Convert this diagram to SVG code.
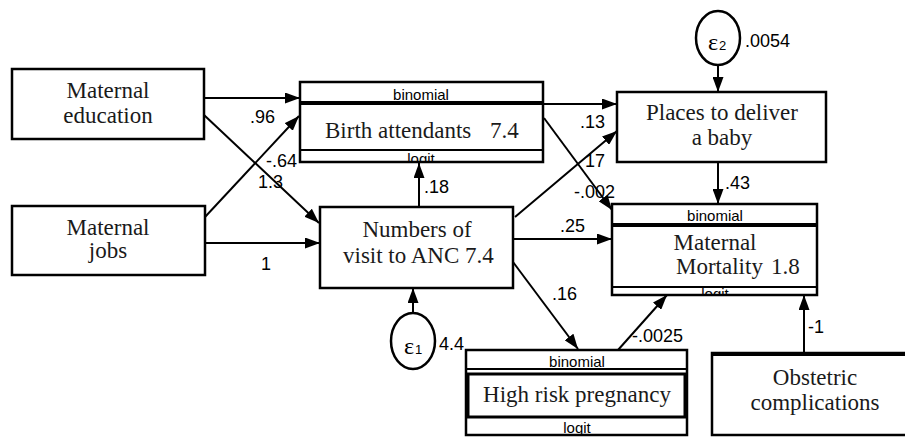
<svg xmlns="http://www.w3.org/2000/svg" width="905" height="437" viewBox="0 0 905 437">
<style>
.box{fill:#fff;stroke:#000;stroke-width:2.5}
.sep{stroke:#000;stroke-width:2}
.thick{stroke:#000;stroke-width:4}
.lbl{font-family:"Liberation Serif",serif;font-size:23px;fill:#1a1a1a}
.band{font-family:"Liberation Sans",Arial,sans-serif;font-size:15px;fill:#000;text-anchor:middle}
.num{font-family:"Liberation Sans",Arial,sans-serif;font-size:18px;fill:#000}
.eps{font-family:"Liberation Serif",serif;font-size:24px;fill:#000}
.sub{font-family:"Liberation Sans",Arial,sans-serif;font-size:13px;fill:#000}
.c{text-anchor:middle}
.conn line{stroke:#000;stroke-width:2;marker-end:url(#ah)}
.ell{fill:#fff;stroke:#000;stroke-width:2.5}
</style>
<defs>
<marker id="ah" markerUnits="userSpaceOnUse" markerWidth="15" markerHeight="11" refX="15" refY="5.5" orient="auto">
<path d="M0,0 L15,5.5 L0,11 z" fill="#000"/>
</marker>
<clipPath id="cBA"><rect x="300" y="151" width="243" height="10"/></clipPath>
<clipPath id="cMM"><rect x="612" y="288" width="205" height="6"/></clipPath>
</defs>

<g id="connectors" class="conn">
<line x1="204" y1="98" x2="300" y2="98"/>
<line x1="204" y1="115" x2="319" y2="223"/>
<line x1="205" y1="217" x2="299" y2="116"/>
<line x1="205" y1="243" x2="320" y2="243"/>
<line x1="419" y1="207" x2="419" y2="163"/>
<line x1="543" y1="104" x2="617" y2="104"/>
<line x1="515" y1="217" x2="617" y2="131"/>
<line x1="544" y1="118" x2="612" y2="210"/>
<line x1="513" y1="239" x2="612" y2="239"/>
<line x1="718" y1="65" x2="718" y2="92"/>
<line x1="718" y1="162" x2="718" y2="204"/>
<line x1="413" y1="313" x2="413" y2="288"/>
<line x1="513" y1="262" x2="578" y2="349"/>
<line x1="618" y1="350" x2="667" y2="295"/>
<line x1="804" y1="353" x2="804" y2="295"/>
</g>

<g id="maternal-education">
<rect class="box" x="12" y="69" width="192" height="70"/>
<text class="lbl c" x="108" y="98">Maternal</text>
<text class="lbl c" x="108" y="123">education</text>
</g>

<g id="maternal-jobs">
<rect class="box" x="12" y="206" width="193" height="69"/>
<text class="lbl c" x="108" y="235">Maternal</text>
<text class="lbl c" x="108" y="258">jobs</text>
</g>

<g id="birth-attendants">
<rect class="box" x="300" y="82" width="243" height="80" stroke-width="3"/>
<line class="thick" x1="300" y1="103" x2="543" y2="103"/>
<text class="band" x="421" y="100">binomial</text>
<text class="lbl" x="325" y="138">Birth attendants</text>
<text class="lbl" x="490" y="138" font-size="21">7.4</text>
<text class="band" x="421" y="164" clip-path="url(#cBA)">logit</text>
<line class="sep" x1="300" y1="150" x2="543" y2="150"/>
</g>

<g id="numbers-anc">
<rect class="box" x="320" y="207" width="193" height="81"/>
<text class="lbl c" x="417" y="237">Numbers of</text>
<text class="lbl" x="343" y="263">visit to ANC</text>
<text class="lbl" x="465" y="263" font-size="21">7.4</text>
</g>

<g id="places">
<rect class="box" x="617" y="92" width="209" height="70"/>
<text class="lbl c" x="722" y="120">Places to deliver</text>
<text class="lbl c" x="722" y="145">a baby</text>
</g>

<g id="maternal-mortality">
<rect class="box" x="612" y="204" width="205" height="91"/>
<text class="band" x="715" y="221">binomial</text>
<line class="thick" x1="612" y1="225" x2="817" y2="225"/>
<text class="lbl c" x="715" y="250" font-size="20">Maternal</text>
<text class="lbl" x="676" y="274" font-size="20">Mortality</text>
<text class="lbl" x="771" y="274" font-size="20">1.8</text>
<text class="band" x="715" y="299" clip-path="url(#cMM)">logit</text>
<line class="sep" x1="612" y1="287" x2="817" y2="287"/>
</g>

<g id="high-risk">
<rect class="box" x="466" y="350" width="221" height="85"/>
<text class="band" x="577" y="367">binomial</text>
<line class="sep" x1="466" y1="369" x2="687" y2="369"/>
<rect x="468" y="374" width="217" height="43" fill="none" stroke="#000" stroke-width="3"/>
<text class="lbl c" x="577" y="402" font-size="20">High risk pregnancy</text>
<text class="band" x="577" y="433">logit</text>
</g>

<g id="obstetric">
<rect class="box" x="712" y="353" width="200" height="82"/>
<line class="thick" x1="712" y1="354" x2="905" y2="354"/>
<text class="lbl c" x="815" y="385">Obstetric</text>
<text class="lbl c" x="815" y="410">complications</text>
</g>

<g id="e1">
<ellipse class="ell" cx="413" cy="341" rx="22" ry="28"/>
<text class="eps" x="404" y="354">ε</text>
<text class="sub" x="415" y="354">1</text>
</g>

<g id="e2">
<ellipse class="ell" cx="718" cy="38" rx="22" ry="27"/>
<text class="eps" x="708" y="50">ε</text>
<text class="sub" x="719" y="50">2</text>
</g>

<g id="labels">
<text class="num" x="250" y="123">.96</text>
<text class="num" x="266" y="167">-.64</text>
<text class="num" x="258" y="188">1.3</text>
<text class="num" x="261" y="270">1</text>
<text class="num" x="424" y="193">.18</text>
<text class="num" x="580" y="128">.13</text>
<text class="num" x="585" y="167">17</text>
<text class="num" x="574" y="198">-.002</text>
<text class="num" x="560" y="232">.25</text>
<text class="num" x="552" y="300">.16</text>
<text class="num" x="745" y="47">.0054</text>
<text class="num" x="725" y="189">.43</text>
<text class="num" x="439" y="350">4.4</text>
<text class="num" x="632" y="342">-.0025</text>
<text class="num" x="808" y="333">-1</text>
</g>
</svg>
